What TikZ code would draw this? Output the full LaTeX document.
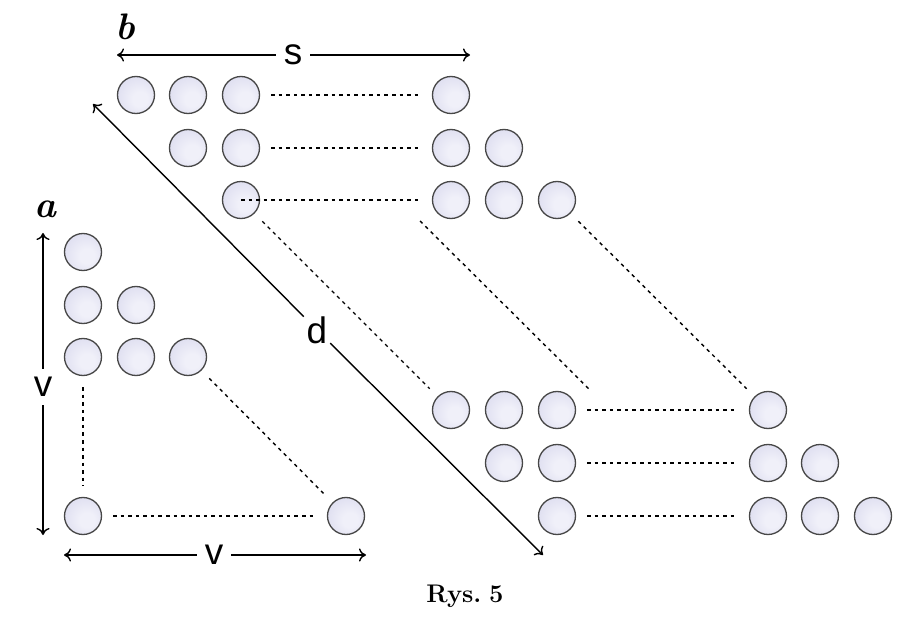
\documentclass[tikz,border=0pt]{standalone}
\usepackage{fontspec}
\setsansfont{Liberation Sans}
\usetikzlibrary{arrows.meta}
\definecolor{ballin}{RGB}{240,240,249}
\definecolor{ballout}{RGB}{206,206,232}
\pgfdeclareradialshading{ballshade}{\pgfpoint{7bp}{-7bp}}{color(0bp)=(ballin); color(10bp)=(ballin); color(50bp)=(ballout)}

\begin{document}
\begin{tikzpicture}[x=0.02cm,y=-0.02cm,
	>={To[length=4pt,width=7.5pt]},
	ball/.style={circle,draw=black!72,line width=0.75pt,shading=ballshade,minimum size=0.74cm,inner sep=0pt},
	dots/.style={line width=0.8pt,dash pattern=on 2pt off 2.3pt,shorten <=0.22cm,shorten >=0.22cm},
	halfdim/.style={line width=0.8pt,->},
	size/.style={font=\sffamily\fontsize{21}{21}\selectfont,inner sep=4.5pt},
	tag/.style={font=\bfseries\itshape\fontsize{21}{21}\selectfont,inner sep=0pt}]
\useasboundingbox (0,0) rectangle (900,618);
% triangle a
\foreach \name/\x/\y in {a1/83/252,a21/83/305,a22/136/305,a31/83/357,a32/136/357,a33/188/357,a41/83/516,a42/346/516}
	\node[ball] (\name) at (\x,\y) {};
% upper group b
\foreach \name/\x/\y in {b11/136/95,b12/188/95,b13/241/95,b14/451/95,
	b21/188/148,b22/241/148,b23/451/148,b24/504/148,
	b31/241/200,b32/451/200,b33/504/200,b34/557/200}
	\node[ball] (\name) at (\x,\y) {};
% lower group
\foreach \name/\x/\y in {c11/451/410,c12/504/410,c13/557/410,c14/768/410,
	c21/504/463,c22/557/463,c23/768/463,c24/820/463,
	c31/557/516,c32/768/516,c33/820/516,c34/873/516}
	\node[ball] (\name) at (\x,\y) {};
% dotted rows
\draw[dots] (a31) -- (a41);
\draw[dots] (a41) -- (a42);
\draw[dots] (a33) -- (a42);
\draw[dots] (b13) -- (b14);
\draw[dots] (b22) -- (b23);
\draw[dots,shorten <=0pt] (b31.center) -- (b32);
\draw[dots] (c13) -- (c14);
\draw[dots] (c22) -- (c23);
\draw[dots] (c31) -- (c32);
% dotted diagonals
\coordinate (midtop) at (420,221);
\coordinate (midbot) at (590,390);
\draw[dots] (b31) -- (c11);
\draw[dots,shorten <=0pt,shorten >=0pt] (midtop) -- (midbot);
\draw[dots] (b34) -- (c14);
% dimensions
\coordinate (sl) at (117,55);
\coordinate (sr) at (470,55);
\coordinate (dl) at (93,104);
\coordinate (dr) at (543,555);
\coordinate (vt) at (43,233);
\coordinate (vb) at (43,535);
\coordinate (hl) at (64,555);
\coordinate (hr) at (366,555);
\node[size] (s) at (293,55) {s};
\node[size,inner sep=1.5pt] (d) at (317,330) {d};
\node[size] (v1) at (43,387) {v};
\node[size] (v2) at (214,555) {v};
\draw[halfdim] (s) -- (sl);
\draw[halfdim] (s) -- (sr);
\draw[halfdim] (d) -- (dl);
\draw[halfdim] (d) -- (dr);
\draw[halfdim] (v1) -- (vt);
\draw[halfdim] (v1) -- (vb);
\draw[halfdim] (v2) -- (hl);
\draw[halfdim] (v2) -- (hr);
% letters
\node[tag] (b) at (125,27) {b};
\node[tag] (a) at (45,209) {a};
\node[font=\bfseries\fontsize{14.5}{14.5}\selectfont,inner sep=0pt] (cap) at (465,596) {Rys.\kern-1pt\ 5};
\end{tikzpicture}
\end{document}
